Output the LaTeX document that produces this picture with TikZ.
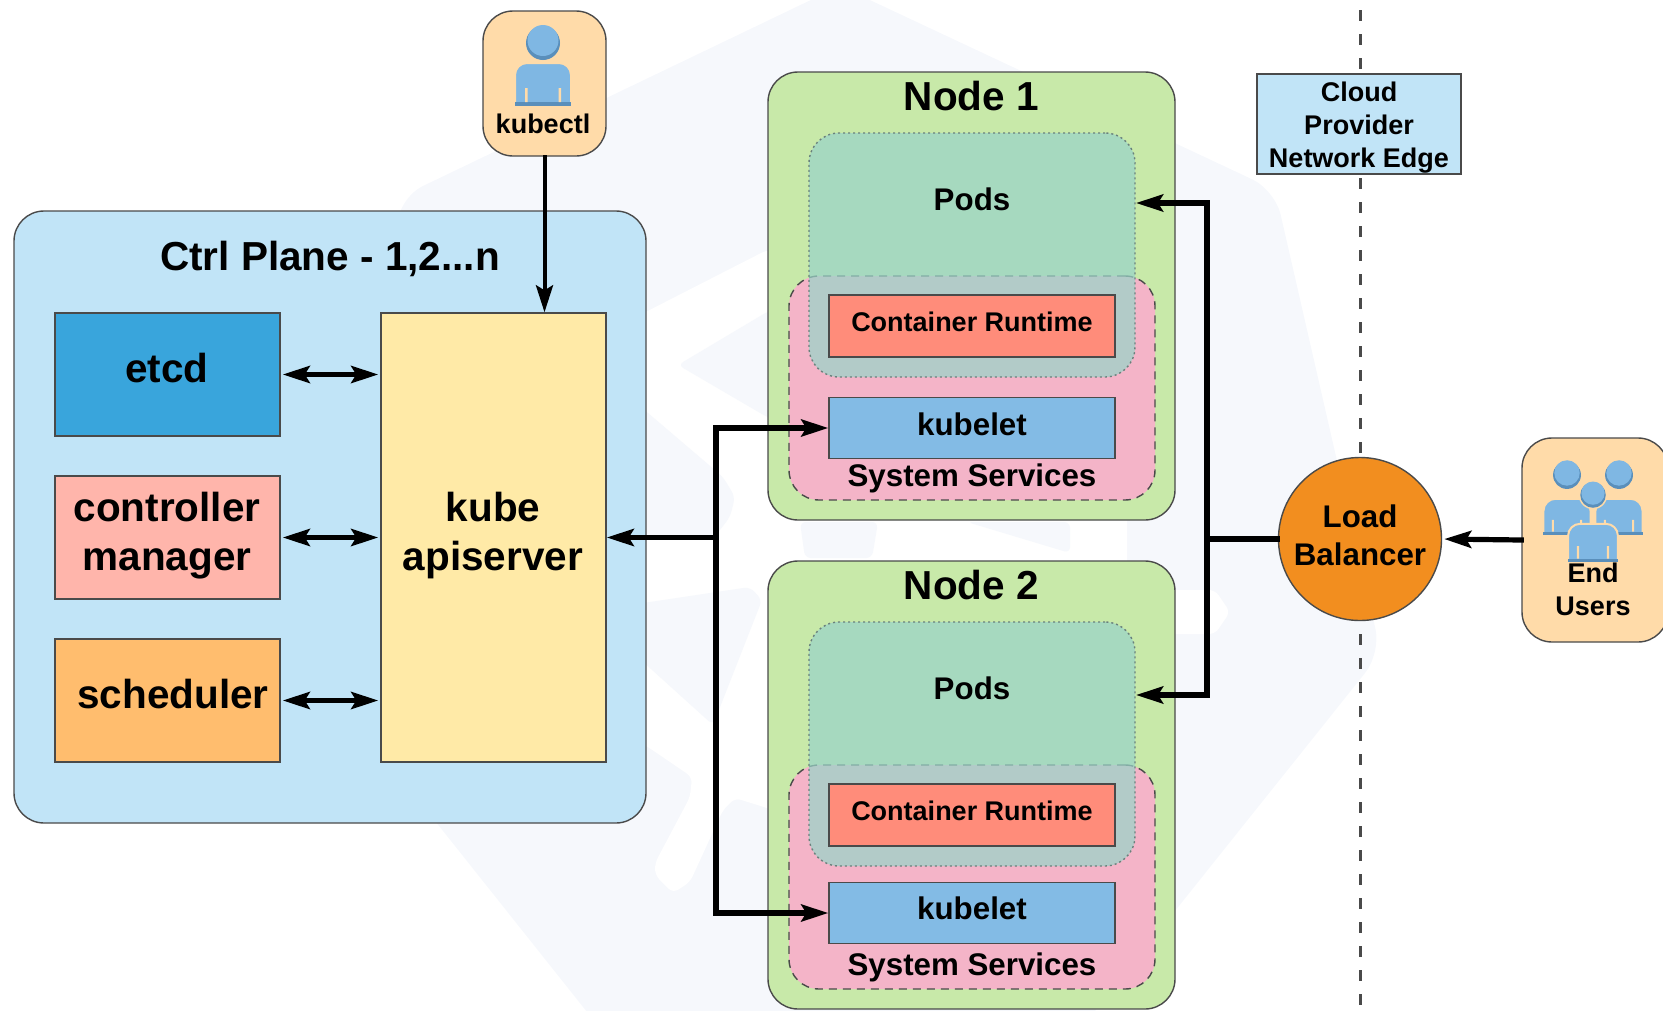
\documentclass[tikz,border=0pt]{standalone}
\usepackage{fontspec}
\setmainfont{Liberation Sans}
\usepackage{tikz}
\usetikzlibrary{arrows.meta}

\definecolor{ctrlblue}{HTML}{C1E4F7}
\definecolor{etcdblue}{HTML}{39A5DC}
\definecolor{ctrlpink}{HTML}{FFB5AB}
\definecolor{schedorange}{HTML}{FFBD6E}
\definecolor{apiyellow}{HTML}{FFEAA7}
\definecolor{userpeach}{HTML}{FFDBA9}
\definecolor{nodegreen}{HTML}{C8E9A9}
\definecolor{podteal}{HTML}{99D4C8}
\definecolor{syspink}{HTML}{F4B4C8}
\definecolor{runtimered}{HTML}{FF8C7A}
\definecolor{kubeletblue}{HTML}{83BBE5}
\definecolor{iconblue}{HTML}{7FB7E3}
\definecolor{icondark}{HTML}{5A8FBB}
\definecolor{lborange}{HTML}{F28E1F}
\definecolor{edgegray}{HTML}{4A4A4A}
\definecolor{markpale}{HTML}{F6F8FC}

\tikzset{
    box/.style={draw=edgegray,line width=1.4pt,inner sep=0pt},
    roundbox/.style={box,rounded corners=30pt},
    txt/.style={inner sep=0pt,align=center,font=\bfseries},
    big/.style={txt,font=\bfseries\fontsize{40.5}{49}\selectfont},
    mid/.style={txt,font=\bfseries\fontsize{31.3}{38}\selectfont},
    small/.style={txt,font=\bfseries\fontsize{27}{33}\selectfont},
    wire/.style={draw=black,line width=5.2pt,line cap=rect},
    personbody/.pic={
        \fill[iconblue,draw=userpeach,line width=2pt] (-28,63) [rounded corners=12pt] -- (-28,20) -- (28,20) [sharp corners] -- (28,63) -- cycle;
        \fill[icondark] (-28,59) rectangle (28,63);
        \fill[userpeach] (-18,45) rectangle (-15.5,59) (15.5,45) rectangle (18,59);
    },
    personhead/.pic={
        \fill[userpeach] (0,0) circle (19);
        \fill[icondark] (0,0) circle (17);
        \fill[iconblue] (0,-2.5) circle (15.5);
    }
}

\begin{document}
\begin{tikzpicture}[x=1pt,y=-1pt]
\useasboundingbox (0,0) rectangle (1663,1010);

% pale mark behind the diagram
\fill[markpale,rounded corners=25pt] (840,-14) -- (1275,190) -- (1381,653) -- (1000,1130) -- (665,1110) -- (350,714) -- (400,197) -- cycle;
\fill[white,rounded corners=6pt] (630,320) -- (767,250) -- (1000,250) -- (1127,400) -- (1127,590) -- (1215,590) -- (1230,612) -- (1215,634) -- (1127,634) -- (1000,900) -- (767,808) -- (735,798) -- (723,810) -- (690,882) -- (673,893) -- (655,875) -- (655,863) -- (690,797) -- (692,777) -- (648,747) -- (630,737) -- cycle;
\begin{scope}[markpale,rounded corners=6pt]
    \fill (678,365) -- (767,312) -- (800,300) -- (800,430) -- (767,417) -- cycle;
    \fill (630,398) -- (648,413) -- (723,477) -- (735,497) -- (730,517) -- (716,535) -- (630,539) -- cycle;
    \fill (630,605) -- (750,587) -- (762,600) -- (713,725) -- (630,650) -- cycle;
    \fill (800,522) -- (878,522) -- (872,558) -- (805,558) -- cycle;
    \fill (967,522) -- (1070,522) -- (1070,553) -- cycle;
\end{scope}

% cloud edge
\coordinate (edgetop) at (1360,10);
\coordinate (edgebottom) at (1360,1006);
\draw[edgegray,line width=3pt,dash pattern=on 11pt off 13pt] (edgetop) -- (edgebottom);

% control plane
\node[roundbox,fill=ctrlblue,minimum width=632pt,minimum height=612pt] (ctrl) at (330,517) {};
\node[big] (ctrltitle) at (330,259) {Ctrl Plane - 1,2...n};

\begin{scope}[every node/.style={box,minimum width=225pt,minimum height=123pt}]
    \node[fill=etcdblue] (etcd) at (167.5,374.5) {};
    \node[fill=ctrlpink] (cm) at (167.5,537.5) {};
    \node[fill=schedorange] (sched) at (167.5,700.5) {};
    \node[fill=apiyellow,minimum height=449pt] (api) at (493.5,537.5) {};
\end{scope}

\node[big] (etcdtxt) at (167,368) {etcd};
\node[big] (cmtxt) at (167,536) {controller\\manager};
\node[big] (schedtxt) at (173,694) {scheduler};
\node[big] (apitxt) at (493,536) {kube\\apiserver};

% kubectl
\node[roundbox,fill=userpeach,minimum width=123pt,minimum height=145pt] (kubectl) at (544.5,83.5) {};
\pic at (543,43) {personbody};
\pic at (543,43) {personhead};
\node[small] (kubectltxt) at (543,124) {kubectl};

% worker nodes
\foreach \n/\dy in {1/0,2/489} {
    \node[roundbox,fill=nodegreen,minimum width=407pt,minimum height=448pt] (node\n) at (971.5,296+\dy) {};
    \node[big] (nodetitle\n) at (971.5,96+\dy) {Node \n};
    \node[roundbox,fill=syspink,dash pattern=on 8pt off 6pt,minimum width=366pt,minimum height=224pt] (sys\n) at (972,388+\dy) {};
    \node[roundbox,fill=podteal,fill opacity=.72,draw=edgegray!60!podteal,dash pattern=on 2pt off 3pt,minimum width=326pt,minimum height=244pt] (pods\n) at (972,255+\dy) {};
    \node[mid] (podstxt\n) at (972,199+\dy) {Pods};
    \node[box,fill=runtimered,minimum width=286pt,minimum height=62pt] (runtime\n) at (972,326+\dy) {};
    \node[small] (runtimetxt\n) at (972,322+\dy) {Container Runtime};
    \node[mid] (systxt\n) at (972,478+\dy) {System Services};
}
\node[box,fill=kubeletblue,minimum width=286pt,minimum height=61pt] (kubelet1) at (972,428) {};
\node[box,fill=kubeletblue,minimum width=286pt,minimum height=61pt] (kubelet2) at (972,913) {};
\node[mid] (kubelettxt1) at (972,424) {kubelet};
\node[mid] (kubelettxt2) at (972,908) {kubelet};

% outside
\node[box,fill=ctrlblue,minimum width=204pt,minimum height=100pt] (cloud) at (1359,124) {};
\node[small] (cloudtxt) at (1359,128) {Cloud\\Provider\\Network Edge};
\node[box,circle,fill=lborange,minimum size=163pt] (lb) at (1360,539) {};
\node[mid] (lbtxt) at (1360,535) {Load\\Balancer};
\node[roundbox,fill=userpeach,minimum width=146pt,minimum height=204pt] (users) at (1595,540) {};
\pic[scale=.84] at (1567,482) {personbody};
\pic[scale=.82] at (1567,475) {personhead};
\pic[scale=.84] at (1619,482) {personbody};
\pic[scale=.82] at (1619,475) {personhead};
\pic[scale=.89] at (1593,506) {personbody};
\pic[scale=.75] at (1593,495) {personhead};
\node[small] (userstxt) at (1593,589) {End\\Users};

% connectors
\coordinate (apijoin) at (716,537.5);
\coordinate (lbjoin) at (1207,539);
\coordinate (podsin1) at (1136,203);
\coordinate (podsin2) at (1136,695);

\begin{scope}[>={Stealth[black,length=27pt,width=17pt,inset=5pt]}]
    \draw [wire,<->,shorten >=2pt,shorten <=2pt] (etcd.east) -- (etcd.east -| api.west);
    \draw [wire,<->,shorten >=2pt,shorten <=2pt] (cm.east) -- (cm.east -| api.west);
    \draw [wire,<->,shorten >=2pt,shorten <=2pt] (sched.east) -- (sched.east -| api.west);
    \draw [wire,->] (apijoin) -- (api.east);
    \draw [wire,->] (apijoin) |- (kubelet1.west);
    \draw [wire,->] (apijoin) |- (kubelet2.west);
    \draw [wire,->] (lb.west) -- (lbjoin) |- (podsin1);
    \draw [wire,->] (lbjoin) |- (podsin2);
    \draw [wire,->,shorten >=2pt] (users.west) -- (lb.east);
    \draw [wire,->,line width=4pt] (kubectl.south) -- (kubectl.south |- api.north);
\end{scope}
\end{tikzpicture}
\end{document}
